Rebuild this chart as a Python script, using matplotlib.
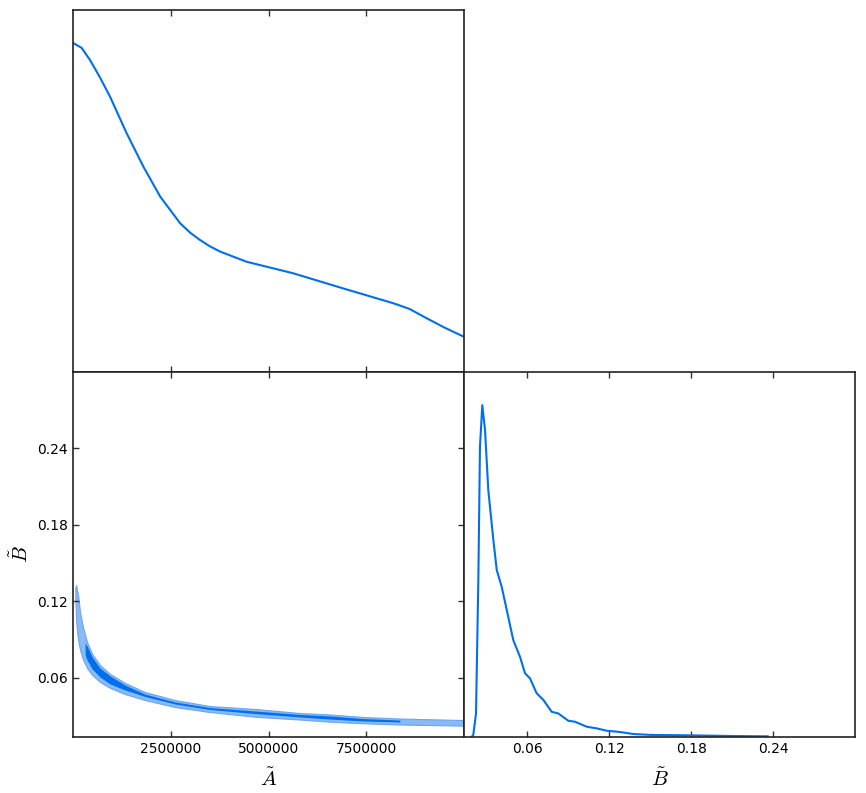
import numpy as np
import matplotlib
matplotlib.use("Agg")
from matplotlib import pyplot as plt

plt.rcParams['mathtext.fontset'] = 'cm'
plt.rcParams['font.family'] = ['DejaVu Sans']

# 1D marginal of A (A in units of 1e6, normalised density)
a_1d = [0.0, 0.22, 0.435, 0.69, 0.946, 1.37, 1.80, 2.23, 2.74, 3.0, 3.25, 3.5,
        3.76, 4.44, 5.63, 6.91, 8.19, 8.6, 9.05, 9.5, 10.0]
pa_1d = [1.000, 0.985, 0.948, 0.895, 0.837, 0.726, 0.624, 0.533, 0.452, 0.423, 0.401, 0.382,
         0.366, 0.335, 0.300, 0.254, 0.209, 0.192, 0.163, 0.135, 0.107]

# 1D marginal of B
b_1d = [0.019, 0.0204, 0.0224, 0.0241, 0.0253, 0.0270, 0.0290, 0.0314, 0.0351, 0.0376,
        0.0412, 0.0449, 0.0497, 0.0546, 0.0583, 0.0619, 0.0668, 0.0717, 0.0778, 0.0827,
        0.0900, 0.0949, 0.1035, 0.1108, 0.1181, 0.128, 0.1376, 0.1504, 0.180, 0.21, 0.236]
pb_1d = [0.0, 0.006, 0.071, 0.473, 0.875, 1.0, 0.925, 0.744, 0.594, 0.503,
         0.453, 0.383, 0.292, 0.242, 0.192, 0.177, 0.132, 0.112, 0.076, 0.071,
         0.049, 0.046, 0.031, 0.026, 0.019, 0.015, 0.009, 0.0063, 0.005, 0.003, 0.002]

# 2D contour band edges (A in 1e6)
a_out = [0.06, 0.08, 0.10, 0.13, 0.18, 0.26, 0.36, 0.49, 0.69, 0.95, 1.33, 1.84,
         2.61, 3.50, 4.66, 5.81, 6.57, 7.42, 8.36, 10.0]
b_out_hi = [0.1305, 0.1329, 0.1290, 0.1250, 0.1117, 0.0991, 0.0881, 0.0787, 0.0701, 0.0630,
            0.0560, 0.0489, 0.0426, 0.0379, 0.0356, 0.0324, 0.0313, 0.0293, 0.0281, 0.0269]
b_out_lo = [0.1227, 0.1054, 0.0976, 0.0897, 0.0819, 0.0740, 0.0677, 0.0623, 0.0568, 0.0521,
            0.0473, 0.0426, 0.0371, 0.0332, 0.0295, 0.0273, 0.0256, 0.0244, 0.0234, 0.0225]

a_in = [0.31, 0.36, 0.49, 0.69, 0.95, 1.33, 1.84, 2.61, 3.50, 4.66, 5.81, 6.57, 7.42, 8.36]
b_in_hi = [0.0874, 0.0850, 0.0764, 0.0677, 0.0615, 0.0544, 0.0473, 0.0411, 0.0367, 0.0340,
           0.0313, 0.0301, 0.0281, 0.0269]
b_in_lo = [0.0779, 0.0740, 0.0670, 0.0607, 0.0552, 0.0505, 0.0454, 0.0395, 0.0352, 0.0320,
           0.0293, 0.0277, 0.0262, 0.0254]

b_ticks = [0.06, 0.12, 0.18, 0.24]
a_ticks = [2500000, 5000000, 7500000]

blue = '#006FED'
light = '#88BAF5'
scale = 1e6
a_lim = (0, 1e7)
b_lim = (0.0136, 0.30)

fig = plt.figure(figsize=(8.66, 7.93), dpi=100)
w = 0.4515
ax1 = fig.add_axes([0.0843, 0.5309, w, 0.4565])
ax2 = fig.add_axes([0.0843, 0.0706, w, 0.4603])
ax3 = fig.add_axes([0.0843 + w, 0.0706, w, 0.4603])

ax1.plot(np.array(a_1d) * scale, pa_1d, color=blue, lw=1.5)
ax1.set_xlim(a_lim)
ax1.set_ylim(0, 1.1)
ax1.set_yticks([])
ax1.set_xticks(a_ticks)
ax1.set_xticklabels([])

ax2.fill_between(np.array(a_out) * scale, b_out_lo, b_out_hi, color=light, lw=0.8, edgecolor='#6aa6f2')
ax2.fill_between(np.array(a_in) * scale, b_in_lo, b_in_hi, color=blue, lw=0)
ax2.set_xlim(a_lim)
ax2.set_ylim(b_lim)
ax2.set_xticks(a_ticks)
ax2.set_xticklabels([str(t) for t in a_ticks])
ax2.set_yticks(b_ticks)
ax2.set_yticklabels(['%.2f' % t for t in b_ticks])
ax2.set_xlabel(r'$\tilde{A}$', fontsize=15, labelpad=8)
ax2.set_ylabel(r'$\tilde{B}$', fontsize=15, labelpad=4)

ax3.plot(b_1d, pb_1d, color=blue, lw=1.5)
ax3.set_xlim(b_lim)
ax3.set_ylim(0, 1.1)
ax3.set_yticks([])
ax3.set_xticks(b_ticks)
ax3.set_xticklabels(['%.2f' % t for t in b_ticks])
ax3.set_xlabel(r'$\tilde{B}$', fontsize=15, labelpad=8)

for ax in (ax1, ax2, ax3):
    for s in ax.spines.values():
        s.set_linewidth(1.2)
        s.set_color('#222222')
    ax.tick_params(direction='in', top=True, right=True, length=4, width=1,
                   labelsize=10, color='#333333')

fig.savefig('out.png', dpi=100)
